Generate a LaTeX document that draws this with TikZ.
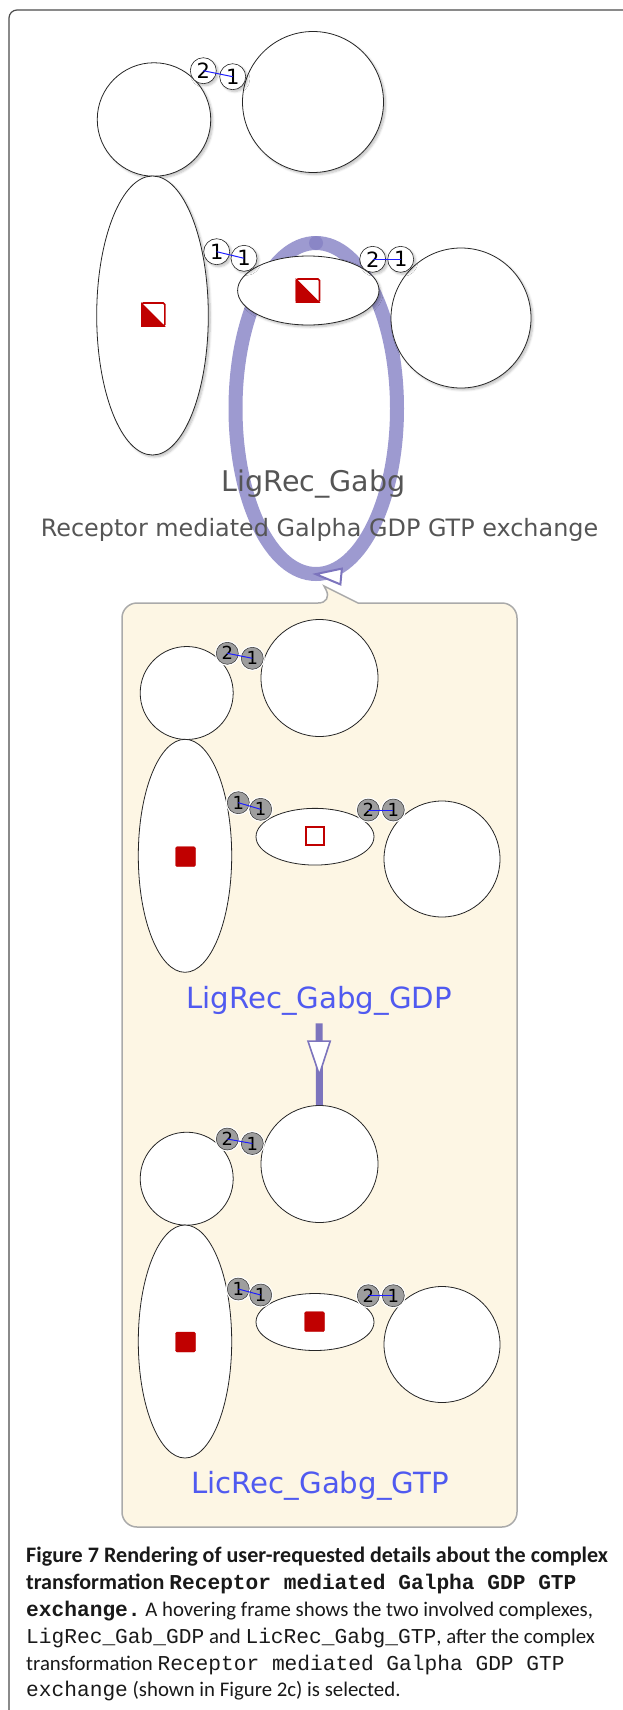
\documentclass[tikz,border=0pt]{standalone}
\usepackage{fontspec}
\setmainfont{DejaVu Sans}
\newfontfamily\capfont{Carlito}
\setmonofont{Liberation Mono}
\usepackage{tikz}
\usetikzlibrary{shapes.geometric,arrows.meta,decorations.markings,shadows.blur}

\definecolor{loopviolet}{RGB}{157,154,208}
\definecolor{stemviolet}{RGB}{124,116,189}
\definecolor{dotviolet}{RGB}{138,134,198}
\definecolor{labelblue}{RGB}{80,90,240}
\definecolor{labelgray}{RGB}{85,85,85}
\definecolor{boxcream}{RGB}{253,246,228}
\definecolor{boxgray}{RGB}{170,170,170}
\definecolor{iconred}{RGB}{192,0,0}
\definecolor{bondblue}{RGB}{30,30,255}

\newcommand{\capcode}[1]{{\ttfamily\fontsize{21.2}{24}\selectfont #1}}
\frenchspacing

\begin{document}
\begin{tikzpicture}[x=1pt, y=-1pt,
    mol/.style={draw=black!85, fill=white, line width=0.8pt, inner sep=0pt},
    soft/.style={blur shadow={shadow xshift=2pt, shadow yshift=-2pt, shadow blur steps=6, shadow opacity=25}},
    cplxcirc/.style={mol, circle, minimum size=#1},
    cplxell/.style 2 args={mol, ellipse, minimum width=#1, minimum height=#2},
    site/.style={circle, draw=black!85, fill=white, line width=0.6pt, minimum size=26, inner sep=0pt, font=\fontsize{21}{21}\selectfont},
    boxsite/.style={circle, draw=black!80, fill=black!38, line width=0.5pt, minimum size=22, inner sep=0pt, preaction={draw=white, line width=3pt}, font=\fontsize{18}{18}\selectfont},
    bond/.style={draw=bondblue, line width=1pt},
    halfsq/.style={rectangle, draw=iconred, fill=white, line width=1.6pt, minimum size=23, inner sep=0pt, rounded corners=1.5pt},
    fullsq/.style={rectangle, draw=iconred, fill=iconred, minimum size=20, inner sep=0pt, rounded corners=1.5pt},
    opensq/.style={rectangle, draw=iconred, fill=white, line width=2pt, minimum size=18, inner sep=0pt},
    loopline/.style={draw=loopviolet, line width=14pt,
        decoration={markings, mark=at position 0.505 with {\arrow{Triangle[open, length=30pt, width=18pt, line width=2pt, color=stemviolet, fill=white]}}},
        postaction={decorate}},
    stemline/.style={draw=stemviolet, line width=7pt,
        decoration={markings, mark=at position 0.66 with {\arrow{Triangle[open, length=37pt, width=24pt, line width=1.6pt, fill=white]}}},
        postaction={decorate}},
    toplbl/.style={anchor=base, inner sep=3pt, text=labelgray, font=\fontsize{28.5}{30}\selectfont},
    rxnlbl/.style={anchor=base, inner sep=3pt, text=labelgray, font=\fontsize{23.9}{26}\selectfont},
    cplxlbl/.style={anchor=base, inner sep=3pt, text=labelblue, font=\fontsize{29.2}{32}\selectfont},
    capline/.style={anchor=base west, inner sep=0pt, text=black!90, font=\capfont\fontsize{20.8}{24}\selectfont},
    capbold/.style={capline, font=\capfont\bfseries\fontsize{22.1}{24}\selectfont}]

    \useasboundingbox (0,0) rectangle (623,1710);
    \draw[black!70, line width=1.2pt, rounded corners=8pt] (9,1712) -- (9,10) -- (626,10);

    \coordinate (looptop) at (316,243);
    \draw[loopline] (looptop) .. controls (361,243) and (397,317) .. (397,408.5)
        .. controls (397,500) and (361,574) .. (316,574)
        .. controls (271,574) and (235.5,500) .. (235.5,408.5)
        .. controls (235.5,317) and (271,243) .. (looptop);
    \fill[dotviolet] (looptop) circle (7);

    \node[cplxcirc=113.5, soft] (tlc) at (154,119.5) {};
    \node[cplxcirc=141, soft] (trc) at (313,102) {};
    \node[cplxell={111.6}{279}, soft] (tel) at (152.5,315.5) {};
    \node[cplxell={141.4}{69}, soft] (tme) at (308.3,290.5) {};
    \node[cplxcirc=140, soft] (trt) at (461,318) {};

    \node[halfsq] (tei) at (153.3,314.5) {};
    \fill[iconred] (tei.north west) -- (tei.south west) -- (tei.south east) -- cycle;
    \node[halfsq] (tmi) at (308,290.5) {};
    \fill[iconred] (tmi.north west) -- (tmi.south west) -- (tmi.south east) -- cycle;

    \node[site, soft] (ta2) at (203.3,70.7) {2};
    \node[site, soft] (ta1) at (232.7,76.7) {1};
    \node[site, soft] (tb1) at (216.7,251.7) {1};
    \node[site, soft] (tb2) at (244,258.3) {1};
    \node[site, soft] (tc2) at (372.7,259.3) {2};
    \node[site, soft] (tc1) at (400.7,259.3) {1};
    \draw[bond] (ta2.center) -- (ta1.center);
    \draw[bond] (tb1.center) -- (tb2.center);
    \draw[bond] (tc2.center) -- (tc1.center);

    \node[toplbl] (lrg) at (313.5,491.7) {LigRec\_Gabg};
    \node[rxnlbl] (rxn) at (319.5,536.7) {Receptor mediated Galpha GDP GTP exchange};

    \draw[fill=boxcream, draw=boxgray, line width=1.5pt, rounded corners=15pt] (122,1100) -- (122,603) -- (333,603) [sharp corners] -- (324,586) -- (358,603) [rounded corners=15pt] -- (517,603) -- (517,1527) -- (122,1527) -- cycle;

    \node[cplxcirc=93] (gsc) at (186.7,693) {};
    \node[cplxcirc=117] (gbc) at (319.5,678) {};
    \node[cplxell={93.4}{233}] (gel) at (185,855.8) {};
    \node[cplxell={118}{56.7}] (gme) at (315,836.7) {};
    \node[cplxcirc=116] (grc) at (442,859) {};
    \node[fullsq] (gei) at (185.5,856.7) {};
    \node[opensq] (gmi) at (314.5,836) {};
    \node[boxsite] (ga2) at (227.3,653.3) {2};
    \node[boxsite] (ga1) at (252.3,658.3) {1};
    \node[boxsite] (gb1) at (238.3,802.7) {1};
    \node[boxsite] (gb2) at (260.7,809.3) {1};
    \node[boxsite] (gc2) at (368.3,810) {2};
    \node[boxsite] (gc1) at (393.3,810) {1};
    \draw[bond] (ga2.center) -- (ga1.center);
    \draw[bond] (gb1.center) -- (gb2.center);
    \draw[bond] (gc2.center) -- (gc1.center);
    \node[cplxlbl] (gdplbl) at (319,1008.3) {LigRec\_Gabg\_GDP};

    \node[cplxcirc=93] (psc) at (186.7,1178.7) {};
    \node[cplxcirc=117] (pbc) at (319.5,1164) {};
    \node[cplxell={93.4}{233}] (pel) at (185,1341.5) {};
    \node[cplxell={118}{57}] (pme) at (315,1322) {};
    \node[cplxcirc=116] (prc) at (442,1344.5) {};
    \node[fullsq] (pei) at (185.5,1342) {};
    \node[fullsq] (pmi) at (314.5,1321.7) {};
    \node[boxsite] (pa2) at (227.3,1139) {2};
    \node[boxsite] (pa1) at (252.3,1143.5) {1};
    \node[boxsite] (pb1) at (238.3,1289) {1};
    \node[boxsite] (pb2) at (260.7,1295) {1};
    \node[boxsite] (pc2) at (368.3,1295.7) {2};
    \node[boxsite] (pc1) at (393.3,1295.7) {1};
    \draw[bond] (pa2.center) -- (pa1.center);
    \draw[bond] (pb1.center) -- (pb2.center);
    \draw[bond] (pc2.center) -- (pc1.center);
    \node[cplxlbl] (gtplbl) at (320,1493.3) {LicRec\_Gabg\_GTP};

    \draw[stemline] ([yshift=-5pt]gdplbl.south) -- (pbc.north);

    \node[capbold] (cap1) at (26,1562.5) {Figure 7 Rendering of user-requested details about the complex};
    \node[capbold] (cap2) at (26,1589.5) {transformation \capcode{Receptor mediated Galpha GDP GTP}};
    \node[capline] (cap3) at (26,1616.5) {\capcode{\bfseries exchange.} A hovering frame shows the two involved complexes,};
    \node[capline] (cap4) at (26,1643) {\capcode{LigRec\_Gab\_GDP} and \capcode{LicRec\_Gabg\_GTP}, after the complex};
    \node[capline] (cap5) at (26,1670) {transformation \capcode{Receptor mediated Galpha GDP GTP}};
    \node[capline] (cap6) at (26,1696.5) {\capcode{exchange} (shown in Figure 2c) is selected.};
\end{tikzpicture}
\end{document}
